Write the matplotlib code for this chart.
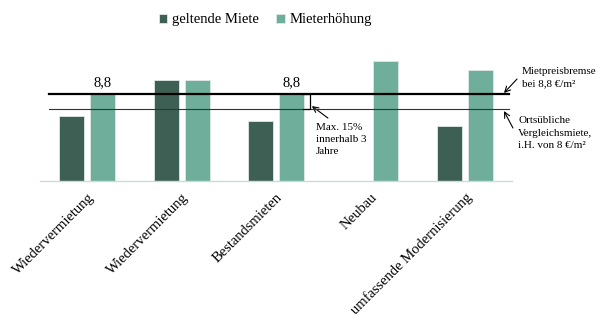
import numpy as np
import matplotlib
matplotlib.use('Agg')
from matplotlib import pyplot as plt

# Daten
kategorien = ['Wiedervermietung', 'Wiedervermietung', 'Bestandsmieten', 'Neubau', 'umfassende Modernisierung']
geltende_miete = [7.6, 9.55, 7.35, 0, 7.1]
mieterhoehung = [8.8, 9.55, 8.8, 10.6, 10.1]
wert_labels = ['8,8', '', '8,8', '', '']
mietpreisbremse = 8.8
vergleichsmiete = 8.0

plt.rcParams['font.family'] = ['Liberation Serif', 'DejaVu Serif']

dunkel = '#3e5f54'
hell = '#6fae9b'

fig = plt.figure(figsize=(5.98, 3.16), dpi=100)
ax = fig.add_axes([40/598, 1-181/316, 472/598, 141/316])

x = np.arange(len(kategorien))
off = 0.164
w = 0.265
ax.bar(x - off, geltende_miete, w, color=dunkel, label='geltende Miete', edgecolor='#dfe9e5', linewidth=0.6)
ax.bar(x + off, mieterhoehung, w, color=hell, label='Mieterhöhung', edgecolor='#dfe9e5', linewidth=0.6)

ax.set_ylim(4.09, 11.75)
ax.set_xlim(-0.5, 4.5)

for i, t in enumerate(wert_labels):
    if t:
        ax.text(x[i] + off, mieterhoehung[i] + 0.3, t, ha='center', va='bottom', fontsize=10.5)

# Linien
ax.plot([-0.405, 4.468], [mietpreisbremse, mietpreisbremse], color='black', lw=1.6, zorder=5)
ax.plot([-0.405, 4.468], [vergleichsmiete, vergleichsmiete], color='#333333', lw=0.8, zorder=5)

# Klammer Max. 15%
bx = 2.36
ax.plot([bx - 0.07, bx, bx, bx - 0.07], [mietpreisbremse, mietpreisbremse, vergleichsmiete, vergleichsmiete],
        color='black', lw=0.9, zorder=6)

pfeil = dict(arrowstyle='->', color='black', lw=0.8, shrinkA=0, shrinkB=0)
ax.text(2.424, 7.25, 'Max. 15%\ninnerhalb 3\nJahre', fontsize=8, va='top', ha='left', linespacing=1.45)
ax.annotate('', xy=(2.38, 8.16), xytext=(2.55, 7.51), arrowprops=pfeil)

ax.text(4.606, 10.3, 'Mietpreisbremse\nbei 8,8 €/m²', fontsize=8, va='top', ha='left',
        linespacing=1.45, clip_on=False)
ax.annotate('', xy=(4.415, 8.87), xytext=(4.553, 9.63), arrowprops=pfeil, annotation_clip=False)

ax.text(4.564, 7.6, 'Ortsübliche\nVergleichsmiete,\ni.H. von 8 €/m²', fontsize=8, va='top', ha='left',
        linespacing=1.45, clip_on=False)
ax.annotate('', xy=(4.415, 7.89), xytext=(4.51, 6.97), arrowprops=pfeil, annotation_clip=False)

for s in ['top', 'right', 'left']:
    ax.spines[s].set_visible(False)
ax.spines['bottom'].set_color('#c9ddd5')
ax.spines['bottom'].set_linewidth(1.0)
ax.set_yticks([])
ax.set_xticks(x)
ax.set_xticklabels(kategorien, rotation=45, ha='right', rotation_mode='anchor', fontsize=10.5)
ax.tick_params(axis='x', length=0, pad=7)

fig.legend(loc='center', bbox_to_anchor=(265/598, 1-20/316), ncol=2, frameon=False,
           fontsize=10.5, handlelength=0.6, handleheight=0.6, handletextpad=0.3, columnspacing=1.2)

fig.savefig('out.png', dpi=100)
